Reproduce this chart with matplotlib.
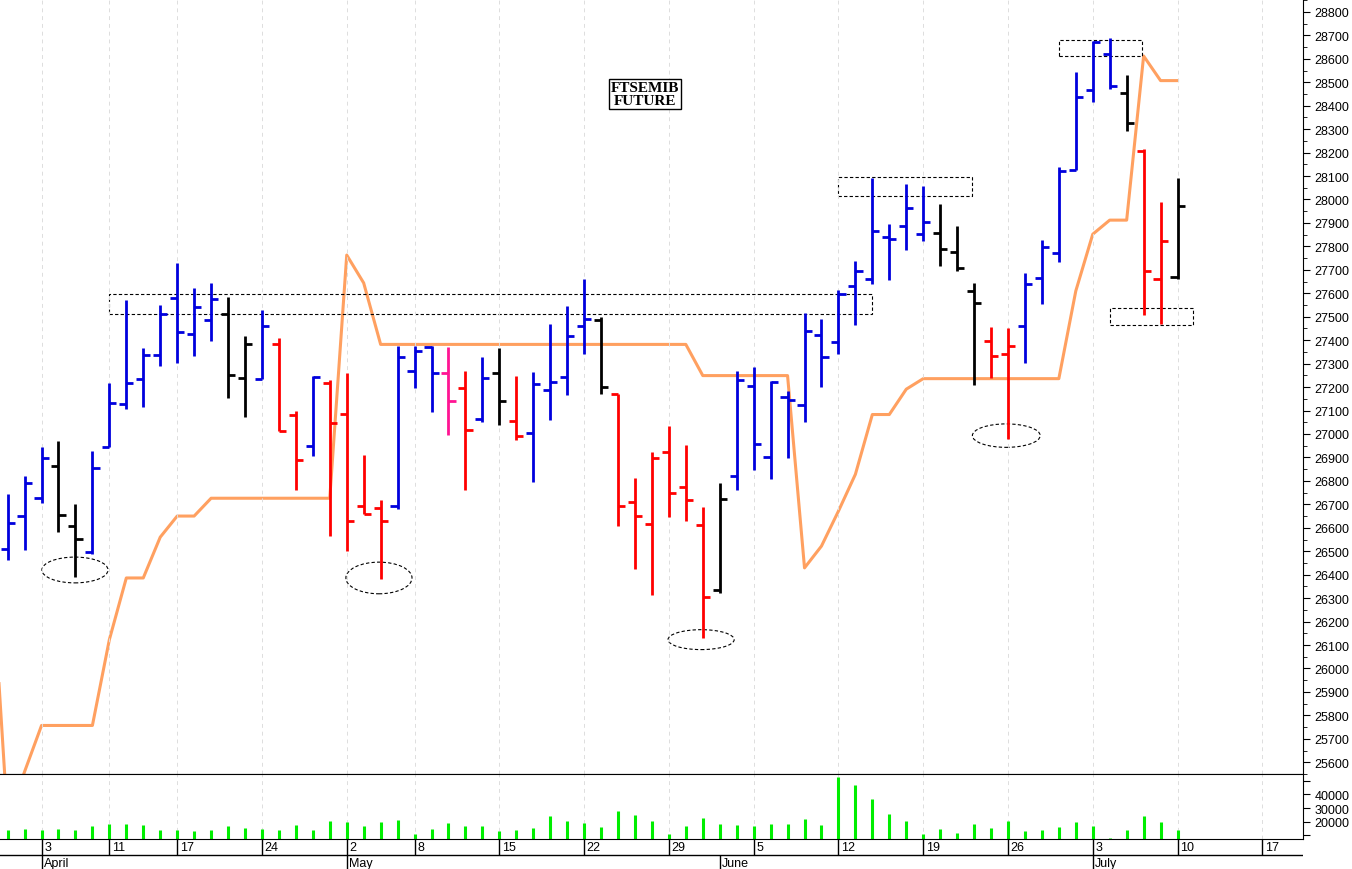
import matplotlib
matplotlib.use("Agg")
import matplotlib.pyplot as plt
from matplotlib.patches import Rectangle, Ellipse
import numpy as np

plt.rcParams["font.family"] = ["Liberation Sans", "DejaVu Sans"]

# trading day index: 0 = April 3
days = list(range(-2, 68))
opens = [26510, 26652, 26727, 26865, 26608, 26495, 26943, 27127, 27236, 27335,
         27580, 27427, 27484, 27512, 27240, 27233, 27385, 27080, 26950, 27219,
         27084, 26695, 26685, 26695, 27269, 27371, 27261, 27198, 27063, 27261,
         27056, 27003, 27188, 27243, 27460, 27484, 27169, 26709, 26617, 26924,
         26775, 26610, 26336, 26822, 27205, 26900, 27158, 27124, 27422, 27392,
         27630, 27661, 27842, 27885, 27853, 27856, 27778, 27609, 27396, 27343,
         27460, 27665, 27771, 28125, 28465, 28621, 28454, 28206, 27661, 27669]
highs = [26744, 26822, 26946, 26971, 26702, 26928, 27216, 27573, 27365, 27552,
         27729, 27623, 27644, 27583, 27417, 27530, 27410, 27099, 27247, 27229,
         27261, 26912, 26719, 27375, 27375, 27375, 27371, 27269, 27328, 27365,
         27247, 27265, 27467, 27545, 27662, 27498, 27169, 26811, 26924, 27035,
         26954, 26688, 26790, 27269, 27285, 27226, 27184, 27516, 27491, 27615,
         27736, 28093, 27896, 28066, 28059, 27981, 27887, 27644, 27457, 27452,
         27686, 27828, 28137, 28543, 28674, 28688, 28529, 28215, 27988, 28090]
lows = [26461, 26504, 26705, 26581, 26390, 26489, 26943, 27105, 27113, 27290,
        27304, 27332, 27396, 27152, 27073, 27233, 27014, 26763, 26907, 26567,
        26499, 26657, 26380, 26680, 27198, 27094, 26997, 26763, 27053, 27039,
        26975, 26794, 27060, 27167, 27343, 27169, 26607, 26423, 26312, 26645,
        26631, 26131, 26322, 26761, 26846, 26808, 26896, 27052, 27201, 27339,
        27464, 27641, 27655, 27785, 27821, 27715, 27694, 27209, 27240, 26978,
        27301, 27556, 27733, 28125, 28416, 28470, 28293, 27509, 27471, 27661]
closes = [26620, 26791, 26897, 26655, 26552, 26853, 27134, 27216, 27335, 27513,
          27434, 27542, 27576, 27250, 27385, 27460, 27014, 26889, 27243, 27046,
          26631, 26657, 26627, 27328, 27353, 27261, 27141, 27018, 27240, 27141,
          26992, 27215, 27223, 27417, 27491, 27202, 26695, 26649, 26896, 26747,
          26720, 26305, 26723, 27229, 26957, 27222, 27144, 27439, 27328, 27597,
          27694, 27866, 27831, 27963, 27903, 27790, 27707, 27559, 27332, 27375,
          27640, 27796, 28123, 28437, 28671, 28484, 28328, 27694, 27821, 27974]
bar_colors = "BBBKKBBBBBBBBKKBRRBRRRRBBBPRBKRBBBBKRRRRRRKBBBBBBBBBBBBKKKRRBBBBBBKRRK"
volumes = [14250, 15000, 14250, 14750, 14000, 17000, 18250, 18250, 18000, 14000,
           14000, 13500, 14000, 17000, 15500, 14750, 14250, 17500, 14000, 20500,
           19750, 17250, 19750, 21000, 11250, 14750, 19000, 17250, 17250, 13500,
           14250, 15500, 24000, 20500, 19000, 16250, 28000, 25000, 20500, 10750,
           17000, 22500, 18750, 18000, 17000, 18750, 18750, 21750, 18000, 52500,
           47000, 37000, 25500, 20750, 10750, 14750, 11750, 18750, 15250, 20250,
           13500, 14000, 16250, 20000, 16750, 8250, 14250, 24000, 19750, 14000]

stop_days = list(range(-3, 68))
stop_line = [26500, 25350, 25560, 25757, 25757, 25757, 25757, 26123, 26386, 26386,
             26560, 26650, 26650, 26726, 26726, 26726, 26726, 26726, 26726, 26726,
             26726, 27763, 27644, 27382, 27382, 27382, 27382, 27382, 27382, 27382,
             27382, 27382, 27382, 27382, 27382, 27382, 27382, 27382, 27382, 27382,
             27382, 27382, 27249, 27249, 27249, 27249, 27249, 27249, 26429, 26522,
             26671, 26828, 27083, 27083, 27191, 27236, 27236, 27236, 27236, 27236,
             27236, 27236, 27236, 27236, 27610, 27852, 27912, 27912, 28612, 28507, 28507]

week_ticks = [0, 4, 8, 13, 18, 22, 27, 32, 37, 42, 47, 52, 57, 62, 67, 72]
week_labels = ["3", "11", "17", "24", "2", "8", "15", "22", "29", "5", "12", "19", "26", "3", "10", "17"]
month_ticks = [0, 18, 40, 62]
month_labels = ["April", "May", "June", "July"]

cmap = {"B": "#0000dd", "K": "#000000", "R": "#ff0000", "P": "#ff1493"}
xmin, xmax = -2.45, 74.4
W, H = 1352, 870

fig = plt.figure(figsize=(13.52, 8.70), dpi=100)
ax = fig.add_axes([0, 1 - 775 / H, 1303 / W, 775 / H])
axv = fig.add_axes([0, 1 - 840 / H, 1303 / W, 65 / H])
axd = fig.add_axes([0, 0, 1303 / W, 30 / H])

# price bars
tk = 0.42
for d, o, h, l, c, k in zip(days, opens, highs, lows, closes, bar_colors):
    col = cmap[k]
    ax.vlines(d, l, h, color=col, lw=2.0)
    ax.hlines(o, d - tk, d, color=col, lw=2.0)
    ax.hlines(c, d, d + tk, color=col, lw=2.0)

ax.plot(stop_days, stop_line, color="#ffa060", lw=2.2, zorder=1)

# annotations
for x0, x1, y0, y1 in [(4.0, 49.0, 27512, 27597), (47.0, 54.9, 28014, 28094),
                       (60.0, 64.9, 28613, 28681), (63.0, 67.9, 27465, 27538)]:
    ax.add_patch(Rectangle((x0, y0), x1 - x0, y1 - y0, fill=False, ls=(0, (3, 2)), lw=0.8, ec="black"))
for cx, cy, ew, eh in [(1.97, 26420, 3.9, 110), (19.9, 26386, 3.9, 135),
                       (38.9, 26123, 3.9, 85), (56.9, 26993, 4.0, 100)]:
    ax.add_patch(Ellipse((cx, cy), ew, eh, fill=False, ls=(0, (3, 2)), lw=0.8, ec="black"))

ax.set_xlim(xmin, xmax)
ax.set_ylim(25562, 28855)
ax.yaxis.tick_right()
ax.set_yticks(np.arange(25600, 28801, 100))
ax.set_yticks(np.arange(25550, 28851, 50), minor=True)
ax.tick_params(axis="y", labelsize=9, length=5, width=0.8)
ax.tick_params(axis="y", which="minor", length=3)
ax.set_xticks(week_ticks)
ax.tick_params(axis="x", length=0, labelbottom=False)
ax.grid(axis="x", color="#dddddd", ls=(0, (4, 4)), lw=0.7)
for s in ["left", "top"]:
    ax.spines[s].set_visible(False)

fig.text(645 / W, 1 - 95 / H, "FTSEMIB\nFUTURE", ha="center", va="center",
         fontsize=11, fontweight="bold", linespacing=1.0, family="Liberation Serif",
         bbox=dict(boxstyle="square,pad=0.15", fc="white", ec="black", lw=1))

# volume
axv.vlines(days, 0, volumes, color="#00ee00", lw=2.2)
axv.set_xlim(xmin, xmax)
axv.set_ylim(7400, 55000)
axv.yaxis.tick_right()
axv.set_yticks([10000, 20000, 30000, 40000, 50000])
axv.set_yticklabels(["", "20000", "30000", "40000", ""])
axv.tick_params(axis="y", labelsize=9, length=5, width=0.8)
axv.set_xticks(week_ticks)
axv.tick_params(axis="x", length=0, labelbottom=False)
axv.grid(axis="x", color="#dddddd", ls=(0, (4, 4)), lw=0.7)
axv.spines["left"].set_visible(False)

# date strip
axd.set_xlim(xmin, xmax)
axd.set_ylim(0, 30)
axd.axis("off")
axd.axhline(14, color="black", lw=1)
for t, lab in zip(week_ticks, week_labels):
    axd.vlines(t, 14, 30, color="black", lw=1)
    axd.text(t + 0.15, 22, lab, fontsize=9, va="center", ha="left")
for t, lab in zip(month_ticks, month_labels):
    axd.vlines(t, 0, 14, color="black", lw=1)
    axd.text(t + 0.15, 6, lab, fontsize=9, va="center", ha="left")

fig.savefig("out.png", dpi=100)
